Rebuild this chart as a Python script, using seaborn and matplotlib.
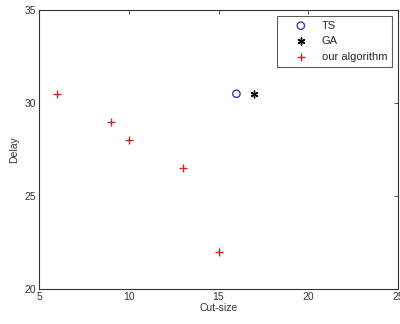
import matplotlib
matplotlib.use("Agg")
import matplotlib.pyplot as plt
import seaborn as sns
import pandas as pd

# Cut-size vs delay for each method
ts_cut = [16]
ts_delay = [30.5]
ga_cut = [17]
ga_delay = [30.5]
our_cut = [6, 9, 10, 13, 15]
our_delay = [30.5, 29, 28, 26.5, 22]

x_ticks = [5, 10, 15, 20, 25]
y_ticks = [20, 25, 30, 35]

sns.set_style("white")
plt.rcParams["font.family"] = ["Liberation Sans", "DejaVu Sans"]

fig = plt.figure(figsize=(4.0, 3.24), dpi=100)
ax = fig.add_axes([0.0975, 0.108, 0.8975, 0.861])

ts = pd.DataFrame({"Cut-size": ts_cut, "Delay": ts_delay})
ga = pd.DataFrame({"Cut-size": ga_cut, "Delay": ga_delay})
ours = pd.DataFrame({"Cut-size": our_cut, "Delay": our_delay})

sns.scatterplot(data=ts, x="Cut-size", y="Delay", ax=ax, marker="o", s=28,
                facecolors="none", edgecolors="#3a3ab8", linewidth=1.0, label="TS")
sns.scatterplot(data=ga, x="Cut-size", y="Delay", ax=ax, marker=(6, 2, 0), s=24,
                color="black", edgecolor="black", linewidth=1.0, label="GA")
sns.scatterplot(data=ours, x="Cut-size", y="Delay", ax=ax, marker="+", s=40,
                color="#d42020", linewidth=1.0, label="our algorithm")

ax.set_xlim(5, 25)
ax.set_ylim(20, 35)
ax.set_xticks(x_ticks)
ax.set_yticks(y_ticks)
ax.tick_params(direction="in", length=3, width=0.6, top=True, right=True,
               labelsize=7.5, colors="#333333", pad=2)
for sp in ax.spines.values():
    sp.set_color("#333333")
    sp.set_linewidth(0.8)
ax.set_xlabel("Cut-size", fontsize=7.5, color="#333333", labelpad=1)
ax.set_ylabel("Delay", fontsize=7.5, color="#333333", labelpad=4)

leg = ax.legend(loc="upper right", bbox_to_anchor=(1.0, 1.0), fontsize=8,
                frameon=True, fancybox=False, borderpad=0.45, labelspacing=0.5,
                handlelength=3.4, handletextpad=0.2, borderaxespad=0.5)
leg.get_frame().set_edgecolor("#333333")
leg.get_frame().set_linewidth(0.8)

fig.savefig("out.png", dpi=100)
